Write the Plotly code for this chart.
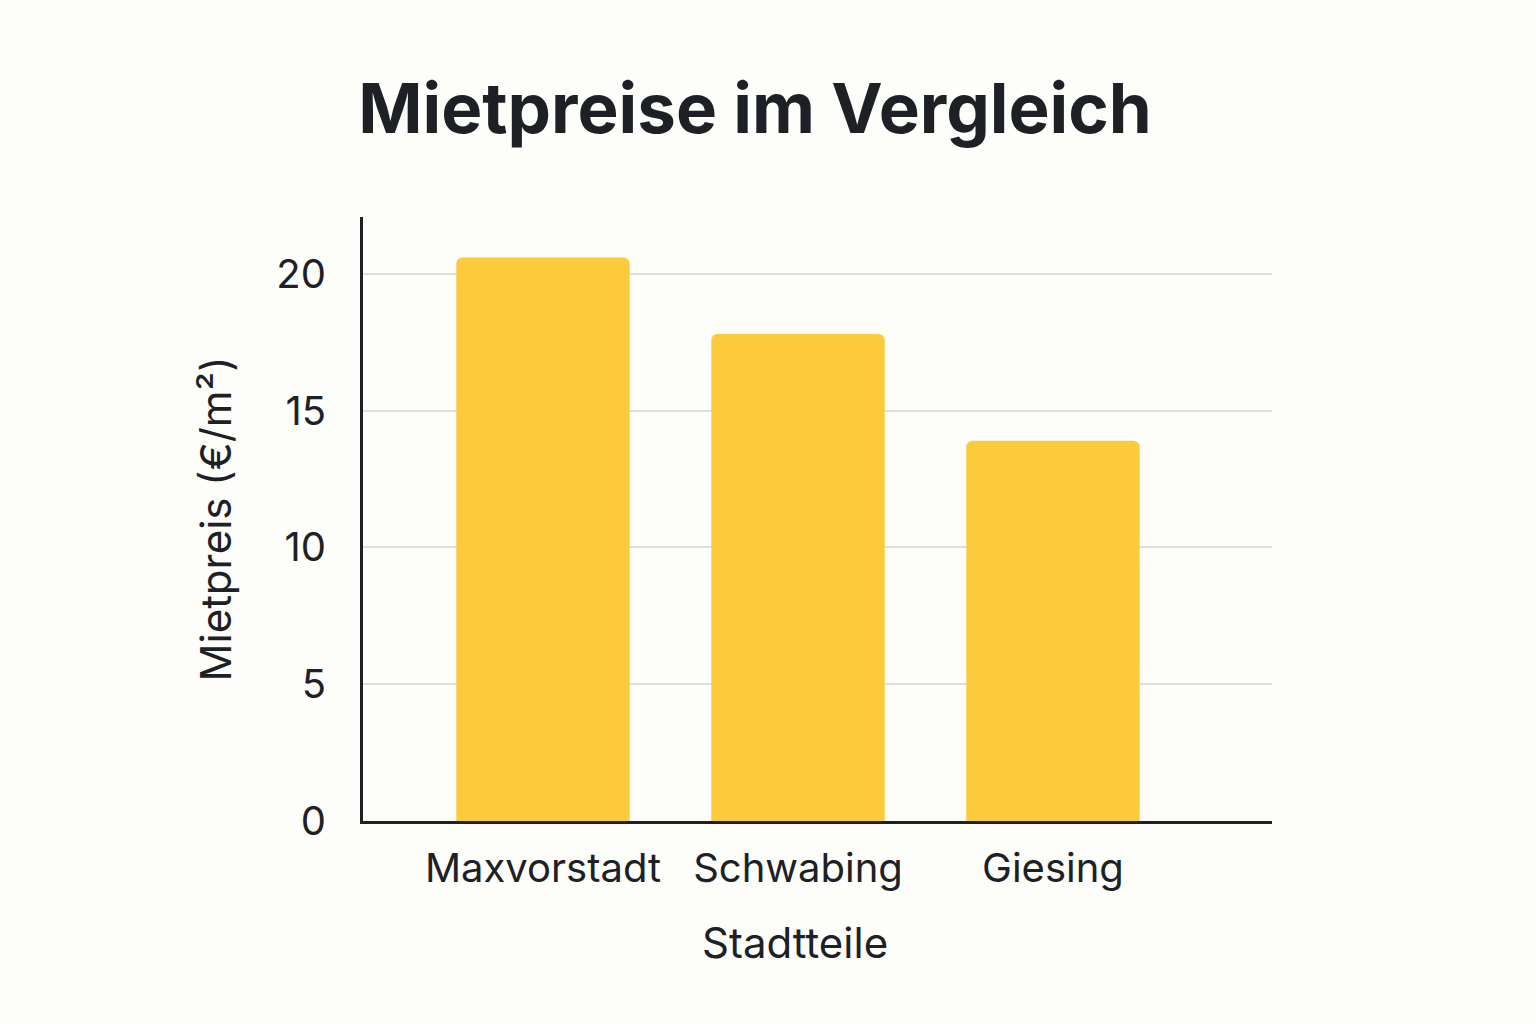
import plotly.graph_objects as go

categories = ["Maxvorstadt", "Schwabing", "Giesing"]
values = [20.6, 17.8, 13.9]
tick_vals = [0, 5, 10, 15, 20]

title_text = "Mietpreise im Vergleich"
x_title = "Stadtteile"
y_title = "Mietpreis (€/m²)"

font_family = "Inter, Roboto, 'Noto Sans', sans-serif"
text_color = "#1d2126"
bg = "#fdfdf9"

fig = go.Figure(
    go.Bar(
        x=categories,
        y=values,
        marker=dict(color="#fbcb3b", line=dict(width=0)),
        width=0.68,
    )
)

fig.update_layout(
    width=1536,
    height=1024,
    paper_bgcolor=bg,
    plot_bgcolor=bg,
    margin=dict(l=363, r=264, t=217, b=203),
    barcornerradius=6,
    showlegend=False,
    font=dict(family=font_family, color=text_color, size=40),
    title=dict(
        text=title_text,
        x=755 / 1536,
        xanchor="center",
        xref="container",
        y=1 - 109 / 1024,
        yanchor="middle",
        yref="container",
        font=dict(family=font_family, size=69, color=text_color, weight="bold"),
    ),
    annotations=[
        dict(
            text=x_title,
            xref="paper",
            yref="paper",
            x=(795 - 363) / 909,
            y=(821 - 942) / 604,
            xanchor="center",
            yanchor="middle",
            showarrow=False,
            font=dict(size=42, color=text_color),
        )
    ],
)

fig.update_xaxes(
    range=[-0.706, 2.859],
    showgrid=False,
    showline=True,
    linecolor=text_color,
    linewidth=3,
    ticks="",
    ticklabelstandoff=10,
    tickfont=dict(size=40, color=text_color),
    zeroline=False,
)

fig.update_yaxes(
    range=[0, 22.08],
    tickvals=tick_vals,
    showgrid=True,
    gridcolor="#dedede",
    gridwidth=2,
    showline=True,
    linecolor=text_color,
    linewidth=3,
    ticks="",
    ticklabelstandoff=26,
    tickfont=dict(size=40, color=text_color),
    title=dict(text=y_title, standoff=32, font=dict(size=42, color=text_color)),
    zeroline=False,
)

fig.write_html(
    "out.html",
    config={"displayModeBar": False},
    post_script="document.body.style.margin='0';document.body.style.background='" + bg + "';",
)
